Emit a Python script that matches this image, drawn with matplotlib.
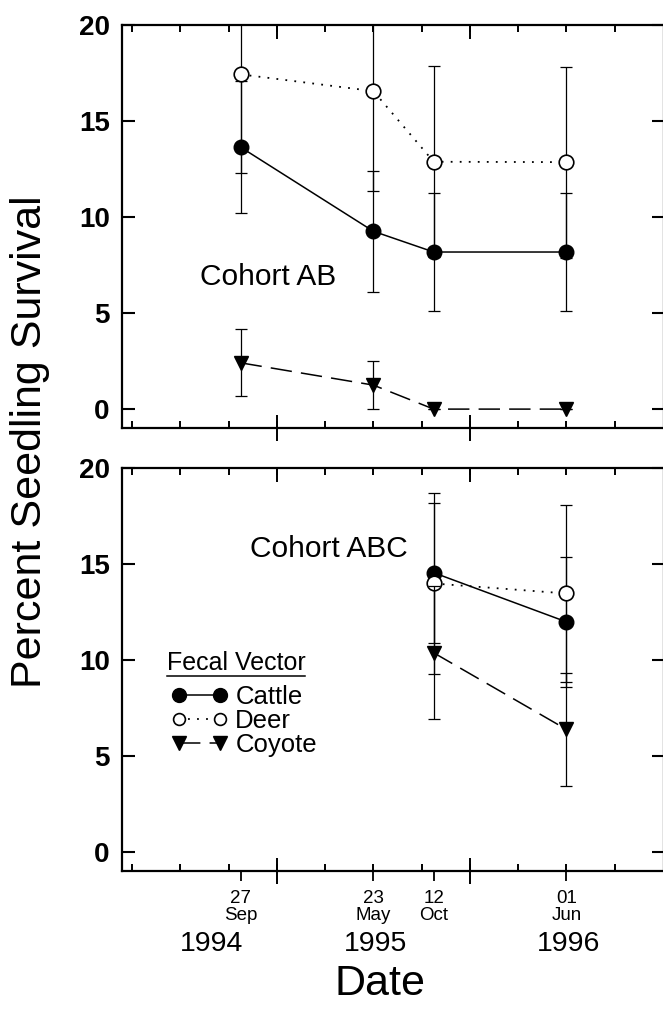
import matplotlib
matplotlib.use("Agg")
import matplotlib.pyplot as plt
from matplotlib.lines import Line2D
from matplotlib.transforms import blended_transform_factory
import numpy as np

# ---------------- data ----------------
date_labels = ["27\nSep", "23\nMay", "12\nOct", "01\nJun"]
date_x = [2.25, 5.0, 6.25, 9.0]          # position on the stylised date axis (quarter units)
quarter_ticks = list(range(0, 11))
year_ticks = [3, 7]
years = ["1994", "1995", "1996"]
year_x = [1.65, 5.05, 9.05]

# Cohort AB (all four dates)
ab_cattle = [13.64, 9.26, 8.18, 8.18]
ab_cattle_err = [3.42, 3.15, 3.08, 3.08]
ab_deer = [17.43, 16.56, 12.88, 12.86]
ab_deer_err = [5.13, 5.20, 4.98, 4.98]
ab_coyote = [2.41, 1.25, 0.0, 0.0]
ab_coyote_err = [1.75, 1.26, 0.0, 0.0]

# Cohort ABC (last two dates)
abc_idx = [2, 3]
abc_cattle = [14.54, 11.98]
abc_cattle_err = [3.65, 3.37]
abc_deer = [13.98, 13.46]
abc_deer_err = [4.70, 4.59]
abc_coyote = [10.37, 6.38]
abc_coyote_err = [3.47, 2.95]

series_names = ["Cattle", "Deer", "Coyote"]

# ---------------- style ----------------
FONT = ["Liberation Sans", "Arial", "DejaVu Sans"]
plt.rcParams["font.family"] = FONT

styles = {
    "Cattle": dict(marker="o", mfc="black", mec="black", ms=10.5, ls="-", lw=1.1),
    "Deer": dict(marker="o", mfc="white", mec="black", ms=10.5, mew=1.2, ls=(0, (1, 4)), lw=1.3),
    "Coyote": dict(marker="v", mfc="black", mec="black", ms=10.5, ls=(0, (14, 6)), lw=1.1),
}

fig = plt.figure(figsize=(6.63, 10.09), dpi=100)
L, W, H = 0.1845, 0.817, 0.3995
ax1 = fig.add_axes([L, 0.5757, W, H])
ax2 = fig.add_axes([L, 0.1368, W, H])

XLIM = (-0.2, 11.02)
YLIM = (-0.99, 20)


def style_axes(ax, bottom_labels):
    ax.set_xlim(*XLIM)
    ax.set_ylim(*YLIM)
    for s in ax.spines.values():
        s.set_linewidth(1.6)
    ax.set_yticks([0, 5, 10, 15, 20])
    ax.tick_params(axis="y", which="major", direction="in", length=9, width=1.5,
                   left=True, right=True, labelsize=20, pad=9)
    for lab in ax.get_yticklabels():
        lab.set_fontweight("bold")
    ax.set_xticks(quarter_ticks)
    ax.set_xticklabels([])
    ax.tick_params(axis="x", which="major", direction="in", length=5, width=1.4,
                   top=True, bottom=True)
    # longer year-boundary ticks
    sb = ax.secondary_xaxis("bottom")
    sb.set_xticks(year_ticks)
    sb.set_xticklabels([])
    sb.tick_params(direction="inout", length=19, width=1.4)
    sb.spines["bottom"].set_visible(False)
    st = ax.secondary_xaxis("top")
    st.set_xticks(year_ticks)
    st.set_xticklabels([])
    st.tick_params(direction="in", length=10, width=1.4)
    st.spines["top"].set_visible(False)
    if bottom_labels:
        sd = ax.secondary_xaxis("bottom")
        sd.set_xticks(date_x)
        sd.set_xticklabels(date_labels, fontsize=13.5, linespacing=0.95)
        sd.tick_params(direction="out", length=7, width=1.3, pad=7)
        sd.spines["bottom"].set_visible(False)


def plot_series(ax, xs, ys, errs, name, z):
    st = styles[name]
    ax.errorbar(xs, ys, yerr=errs, fmt="none", ecolor="black", elinewidth=0.9,
                capsize=4, capthick=0.9, zorder=z)
    ax.plot(xs, ys, color="black", zorder=z + 0.5, clip_on=False, **st)


style_axes(ax1, False)
style_axes(ax2, True)

plot_series(ax1, date_x, ab_cattle, ab_cattle_err, "Cattle", 3)
plot_series(ax1, date_x, ab_deer, ab_deer_err, "Deer", 4)
plot_series(ax1, date_x, ab_coyote, ab_coyote_err, "Coyote", 5)

abc_x = [date_x[i] for i in abc_idx]
plot_series(ax2, abc_x, abc_cattle, abc_cattle_err, "Cattle", 3)
plot_series(ax2, abc_x, abc_deer, abc_deer_err, "Deer", 4)
plot_series(ax2, abc_x, abc_coyote, abc_coyote_err, "Coyote", 5)

ax1.text(1.41, 6.9, "Cohort AB", fontsize=21.5, ha="left", va="center")
ax2.text(2.45, 15.75, "Cohort ABC", fontsize=21.5, ha="left", va="center")

# legend
handles = []
for n in series_names:
    st = dict(styles[n])
    st["ms"] = 10 if n != "Deer" else 8.5
    handles.append(Line2D([], [], color="black", **st))
leg = ax2.legend(handles, series_names, loc="upper left", bbox_to_anchor=(0.09, 0.462),
                 numpoints=2, frameon=False, fontsize=18.5, handlelength=2.2,
                 handletextpad=0.3, labelspacing=0.0, borderaxespad=0, borderpad=0)
ax2.text(0.082, 1 - (663 - 468.3) / 402.7, "Fecal Vector", transform=ax2.transAxes,
         fontsize=18, ha="left", va="center")
ax2.plot([0.082, 0.338], [1 - (676 - 468.3) / 402.7] * 2, transform=ax2.transAxes,
         color="black", lw=1.1, clip_on=False)

# year labels and axis titles
tr = blended_transform_factory(ax2.transData, fig.transFigure)
for yx, yl in zip(year_x, years):
    fig.text(yx, 1 - 944 / 1009, yl, transform=tr, fontsize=20.5, ha="center", va="center")
fig.text(380 / 663, 1 - 984 / 1009, "Date", fontsize=31, ha="center", va="center")
fig.text(30 / 663, 1 - 442 / 1009, "Percent Seedling Survival", fontsize=31,
         rotation=90, ha="center", va="center")

fig.savefig("out.png", dpi=100)
